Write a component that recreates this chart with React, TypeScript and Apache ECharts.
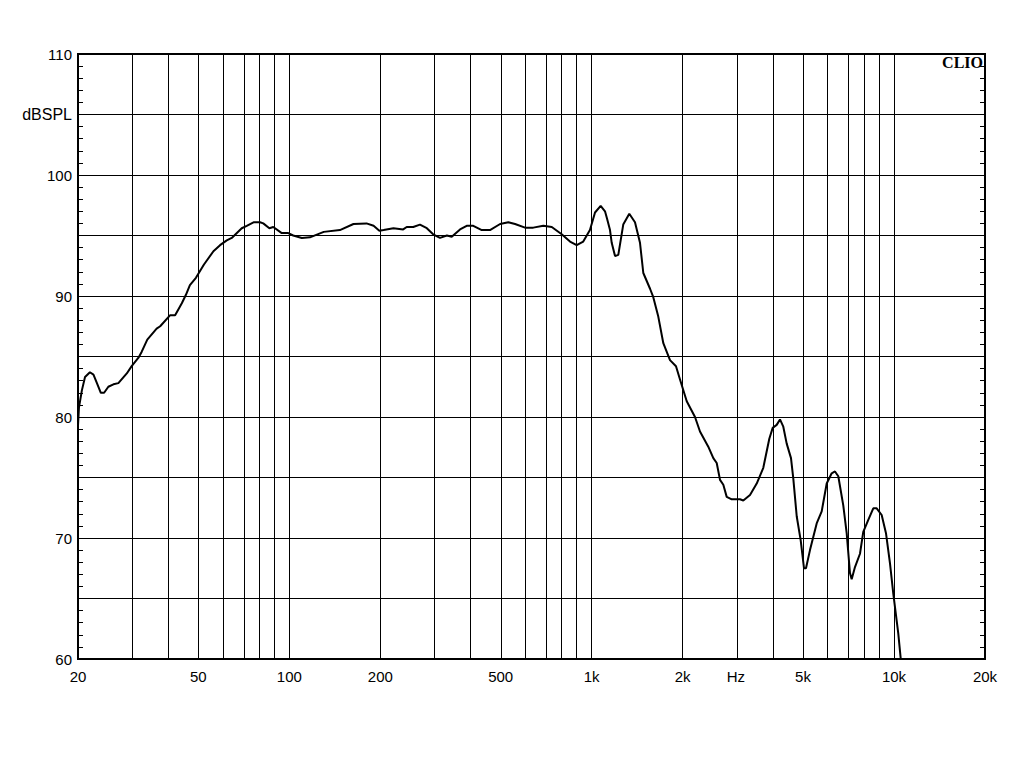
import React, { useEffect, useRef } from "react";
import * as echarts from "echarts";

const freqs = [
  20, 20.15, 20.6, 21.1, 21.9, 22.5, 23.1, 23.8, 24.4, 25.2, 26.2, 27.2, 29.0, 30.1, 31.7, 32.5, 33.9,
  36.4, 37.4, 40.3, 41.9, 44.1, 45.5, 46.9, 49.1, 52.2, 56.1, 59.0, 62.1, 64.5, 69.6, 72.3, 76.4, 80,
  82, 85.9, 88.5, 94.4, 99.2, 103, 110, 117, 130, 147, 163, 180, 190, 198.5, 205, 221, 238, 244.5,
  257, 270.5, 285, 299, 315, 332, 344.5, 367, 386, 406, 433, 461, 498, 530, 558, 602, 641, 692, 738,
  796, 848, 892, 938, 987, 1026, 1071, 1107, 1124, 1150, 1165, 1195, 1225, 1272, 1332, 1391, 1445,
  1482, 1560, 1599, 1661, 1726, 1816, 1901, 1960, 2063, 2197, 2282, 2431, 2526, 2592, 2658, 2726,
  2797, 2906, 3095, 3174, 3340, 3515, 3696, 3869, 3970, 4093, 4197, 4304, 4417, 4564, 4645, 4767,
  4914, 5039, 5116, 5274, 5550, 5766, 5990, 6222, 6380, 6543, 6796, 6975, 7152, 7245, 7430, 7718,
  7914, 8222, 8541, 8765, 9105, 9408, 9700, 9947, 10333, 10524, 10600,
];

const spl = [
  79.3, 80.8, 82.2, 83.3, 83.7, 83.5, 82.8, 82.0, 82.0, 82.5, 82.7, 82.8, 83.6, 84.2, 84.9, 85.4, 86.4,
  87.3, 87.5, 88.4, 88.4, 89.4, 90.1, 90.9, 91.5, 92.6, 93.7, 94.2, 94.6, 94.8, 95.6, 95.8, 96.1, 96.1,
  96.0, 95.6, 95.7, 95.2, 95.2, 95.0, 94.8, 94.85, 95.3, 95.45, 95.95, 96.0, 95.8, 95.4, 95.45, 95.6,
  95.5, 95.7, 95.7, 95.9, 95.6, 95.1, 94.8, 95.0, 94.9, 95.5, 95.8, 95.8, 95.45, 95.45, 95.95, 96.1,
  95.95, 95.65, 95.65, 95.8, 95.7, 95.1, 94.5, 94.2, 94.5, 95.45, 96.9, 97.45, 97.0, 96.4, 95.45, 94.4,
  93.3, 93.4, 95.9, 96.8, 96.1, 94.4, 91.9, 90.6, 89.9, 88.3, 86.1, 84.7, 84.2, 83.1, 81.3, 80.0, 78.8,
  77.55, 76.6, 76.2, 74.8, 74.4, 73.4, 73.2, 73.2, 73.1, 73.55, 74.5, 75.8, 78.2, 79.1, 79.35, 79.8,
  79.2, 77.8, 76.6, 74.9, 71.8, 69.8, 67.5, 67.5, 69.0, 71.2, 72.2, 74.5, 75.35, 75.5, 75.1, 72.7, 70.4,
  67.1, 66.6, 67.6, 68.7, 70.5, 71.5, 72.45, 72.45, 71.9, 70.4, 67.9, 65.4, 62.1, 60.05, 59.3,
];

const gridFreqs = [
  20, 30, 40, 50, 60, 70, 80, 90, 100, 200, 300, 400, 500, 600, 700, 800, 900, 1000, 2000, 3000, 4000,
  5000, 6000, 7000, 8000, 9000, 10000, 20000,
];

const xLabelFreqs = [20, 50, 100, 200, 500, 1000, 2000, 3000, 5000, 10000, 20000];
const xLabelTexts = ["20", "50", "100", "200", "500", "1k", "2k", "Hz", "5k", "10k", "20k"];

const yMin = 60;
const yMax = 110;
const yUnitLabel = "dBSPL";

export default function App() {
  const ref = useRef<HTMLDivElement>(null);

  useEffect(() => {
    if (!ref.current) return;
    const chart = echarts.init(ref.current, undefined, { renderer: "svg" });
    const font = "'Liberation Sans', Arial, sans-serif";
    const lg = (f: number) => Math.log10(f);

    const yAxisCommon = {
      type: "value" as const,
      min: yMin,
      max: yMax,
      interval: 5,
      axisLine: { show: true, lineStyle: { color: "#000", width: 2 } },
      axisTick: { show: true, inside: true, length: 5, lineStyle: { color: "#000", width: 1 } },
      minorTick: { show: true, splitNumber: 5, length: 5, lineStyle: { color: "#000", width: 1 } },
    };

    chart.setOption({
      animation: false,
      backgroundColor: "#fff",
      grid: {
        left: 78,
        right: 39,
        top: 54,
        bottom: 109,
        show: true,
        borderColor: "#000",
        borderWidth: 2,
        backgroundColor: "transparent",
      },
      xAxis: {
        type: "value",
        min: lg(20),
        max: lg(20000),
        axisLine: { show: true, lineStyle: { color: "#000", width: 2 } },
        axisTick: { show: false },
        splitLine: { show: false },
        axisLabel: {
          customValues: xLabelFreqs.map(lg),
          color: "#000",
          fontFamily: font,
          fontSize: 15,
          margin: 10,
          hideOverlap: false,
          formatter: (v: number) => {
            let best = 0;
            let bd = Infinity;
            xLabelFreqs.forEach((f, i) => {
              const d = Math.abs(lg(f) - v);
              if (d < bd) {
                bd = d;
                best = i;
              }
            });
            return xLabelTexts[best];
          },
        },
      },
      yAxis: [
        {
          ...yAxisCommon,
          position: "left",
          splitLine: { show: true, lineStyle: { color: "#000", width: 1 } },
          axisLabel: {
            color: "#000",
            fontFamily: font,
            fontSize: 15,
            margin: 6,
            rich: { u: { fontSize: 16, fontFamily: font, color: "#000" } },
            formatter: (v: number) =>
              v % 10 === 0 ? String(v) : v === 105 ? `{u|${yUnitLabel}}` : "",
          },
        },
        {
          ...yAxisCommon,
          position: "right",
          splitLine: { show: false },
          axisLabel: { show: false },
        },
      ],
      graphic: [
        {
          type: "text",
          right: 41,
          top: 54,
          z: 100,
          style: {
            text: "CLIO",
            font: "bold 16px 'Liberation Serif', 'Times New Roman', serif",
            fill: "#000",
          },
        },
      ],
      series: [
        {
          type: "line",
          yAxisIndex: 0,
          data: freqs.map((f, i) => [lg(f), spl[i]]),
          showSymbol: false,
          symbol: "none",
          smooth: false,
          clip: true,
          lineStyle: { color: "#000", width: 2 },
          z: 10,
          markLine: {
            silent: true,
            symbol: ["none", "none"],
            label: { show: false },
            lineStyle: { color: "#000", width: 1, type: "solid" },
            z: 1,
            data: gridFreqs.map((f) => ({ xAxis: lg(f) })),
          },
        },
      ],
    });

    return () => chart.dispose();
  }, []);

  return (
    <div
      ref={ref}
      style={{ position: "absolute", left: 0, top: 0, width: 1024, height: 768 }}
    />
  );
}
